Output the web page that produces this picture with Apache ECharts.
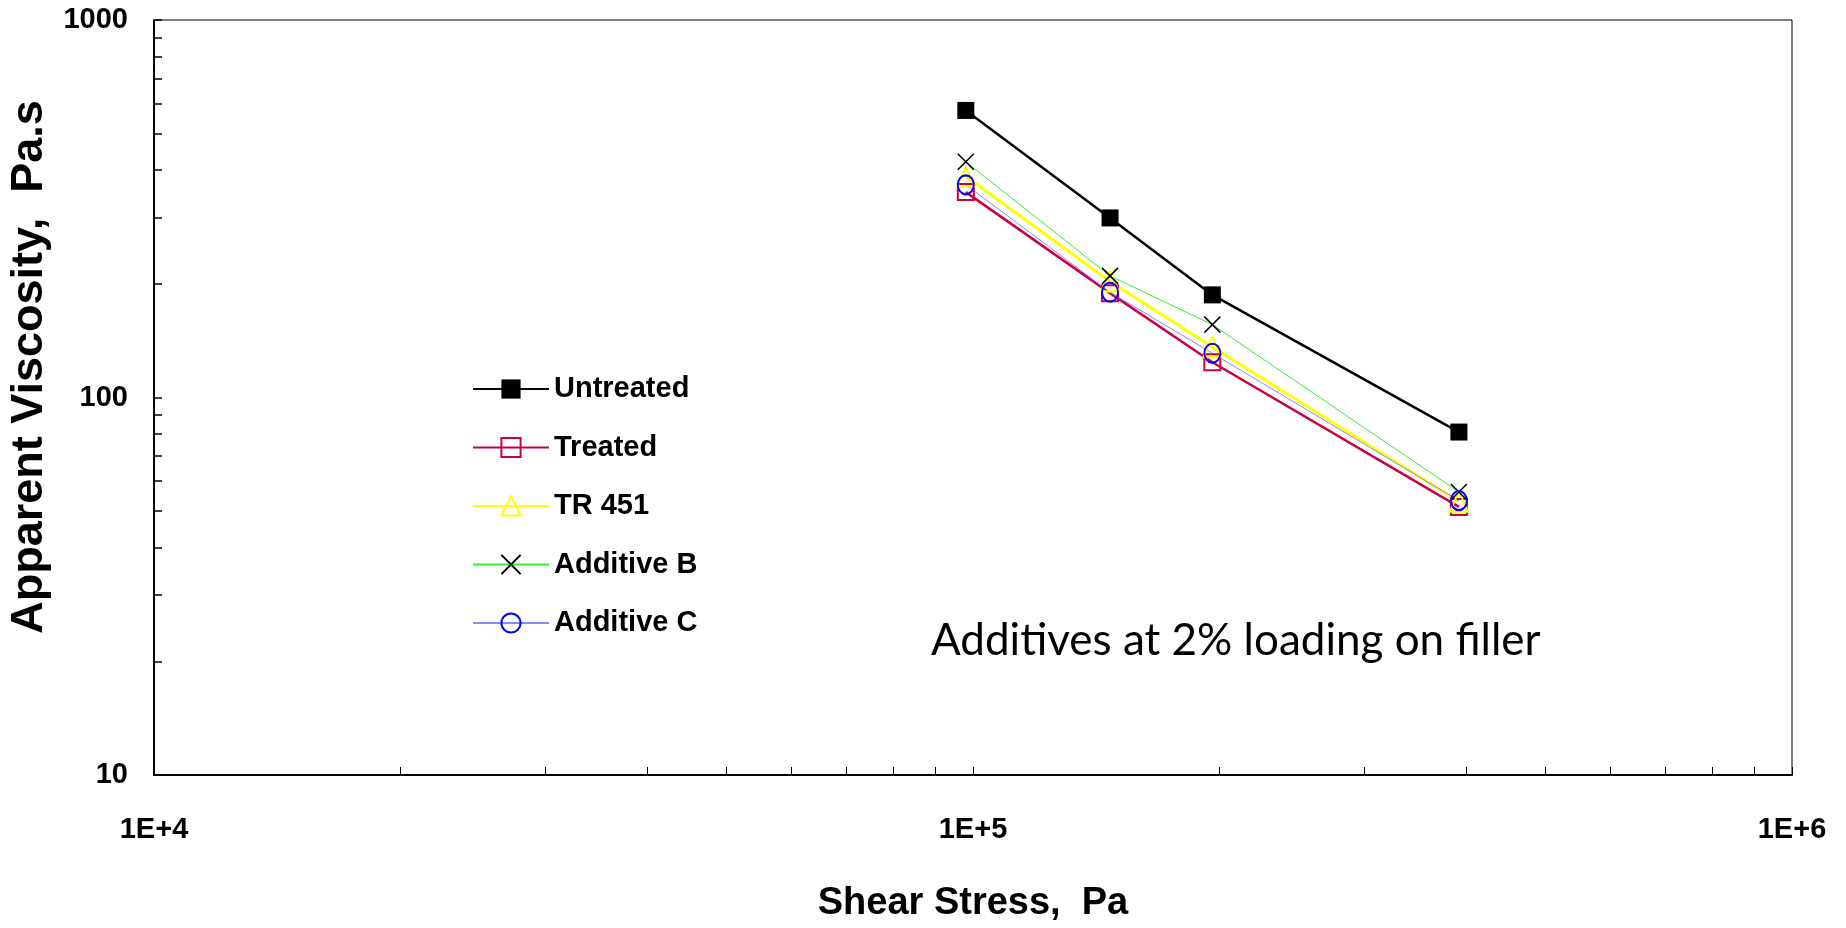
<!DOCTYPE html>
<html>
<head>
<meta charset="utf-8">
<script src="https://cdn.jsdelivr.net/npm/echarts@6/dist/echarts.min.js"></script>
<style>
  html, body { margin: 0; padding: 0; background: #fff; }
  #chart { width: 1846px; height: 928px; }
</style>
</head>
<body>
<div id="chart"></div>
<script>
// shear stress (Pa) at which each sample was measured
const shearStress = [98000, 147000, 196000, 392000];

// apparent viscosity (Pa.s)
const untreated = [576, 299, 187, 81];
const treated = [350, 189, 124, 51.3];
const tr451 = [385, 203, 136, 53];
const additiveB = [421, 210, 156, 56.2];
const additiveC = [366, 190, 131, 53.3];

// log axis tick positions (major + minor)
const xTicks = [1e4, 2e4, 3e4, 4e4, 5e4, 6e4, 7e4, 8e4, 9e4,
  1e5, 2e5, 3e5, 4e5, 5e5, 6e5, 7e5, 8e5, 9e5, 1e6];
const yTicks = [10, 20, 30, 40, 50, 60, 70, 80, 90,
  100, 200, 300, 400, 500, 600, 700, 800, 900, 1000];

const note = 'Additives at 2% loading on filler';

const pairs = ys => shearStress.map((x, i) => [x, ys[i]]);
const xCross = 'path://M0,0L10,10M10,0L0,10';

const chart = echarts.init(document.getElementById('chart'));

const labelFont = { fontFamily: 'Liberation Sans', fontWeight: 'bold', fontSize: 29, color: '#000' };

chart.setOption({
  animation: false,
  backgroundColor: '#fff',
  grid: { left: 154, right: 54, top: 20, bottom: 148, show: true, borderColor: '#000', borderWidth: 1 },
  legend: {
    orient: 'vertical',
    left: 467, top: 369,
    itemWidth: 76, itemHeight: 24, itemGap: 28.5,
    textStyle: { ...labelFont, fontSize: 29, lineHeight: 30 },
    data: ['Untreated', 'Treated', 'TR 451', 'Additive B', 'Additive C'],
  },
  xAxis: {
    type: 'log', min: 1e4, max: 1e6,
    name: 'Shear Stress,  Pa', nameLocation: 'middle', nameGap: 110,
    nameTextStyle: { fontFamily: 'Liberation Sans', fontWeight: 'bold', fontSize: 38, color: '#000' },
    axisLine: { lineStyle: { color: '#000', width: 2 } },
    axisTick: { inside: true, length: 8, customValues: xTicks, lineStyle: { color: '#000', width: 1 } },
    axisLabel: { ...labelFont, margin: 40, formatter: v => '1E+' + Math.round(Math.log10(v)) },
    splitLine: { show: false },
  },
  yAxis: {
    type: 'log', min: 10, max: 1000,
    axisLine: { lineStyle: { color: '#000', width: 2 } },
    axisTick: { inside: true, length: 8, customValues: yTicks, lineStyle: { color: '#000', width: 1.5 } },
    axisLabel: { ...labelFont, margin: 26, formatter: v => String(Math.round(v)) },
    splitLine: { show: false },
  },
  graphic: [
    {
      type: 'text', x: 30, y: 367, rotation: Math.PI / 2,
      style: {
        text: 'Apparent Viscosity,  Pa.s', fill: '#000',
        font: 'bold 45px "Liberation Sans"', align: 'center', verticalAlign: 'middle',
      },
    },
    {
      type: 'text', x: 931, y: 641,
      style: {
        text: note, fill: '#000',
        font: '44px Lato', align: 'left', verticalAlign: 'middle',
      },
    },
  ],
  series: [
    {
      name: 'Untreated', type: 'line', data: pairs(untreated),
      symbol: 'rect', symbolSize: 17,
      lineStyle: { color: '#000', width: 2.5 },
      itemStyle: { color: '#000' },
    },
    {
      name: 'Treated', type: 'line', data: pairs(treated),
      symbol: 'rect', symbolSize: 16,
      lineStyle: { color: '#CC0044', width: 2.5 },
      itemStyle: { color: 'rgba(0,0,0,0)', borderColor: '#CC0044', borderWidth: 2 },
    },
    {
      name: 'TR 451', type: 'line', data: pairs(tr451),
      symbol: 'triangle', symbolSize: [18, 20],
      lineStyle: { color: '#FFFF00', width: 3 },
      itemStyle: { color: 'rgba(0,0,0,0)', borderColor: '#FFFF00', borderWidth: 2 },
    },
    {
      name: 'Additive B', type: 'line', data: pairs(additiveB),
      symbol: xCross, symbolSize: 16,
      lineStyle: { color: '#33EE33', width: 1 },
      itemStyle: { color: 'rgba(0,0,0,0)', borderColor: '#000', borderWidth: 1.5 },
    },
    {
      name: 'Additive C', type: 'line', data: pairs(additiveC),
      symbol: 'circle', symbolSize: [16, 19],
      lineStyle: { color: '#8888FF', width: 1 },
      itemStyle: { color: 'rgba(0,0,0,0)', borderColor: '#0000FF', borderWidth: 2 },
    },
  ],
});
</script>
</body>
</html>
